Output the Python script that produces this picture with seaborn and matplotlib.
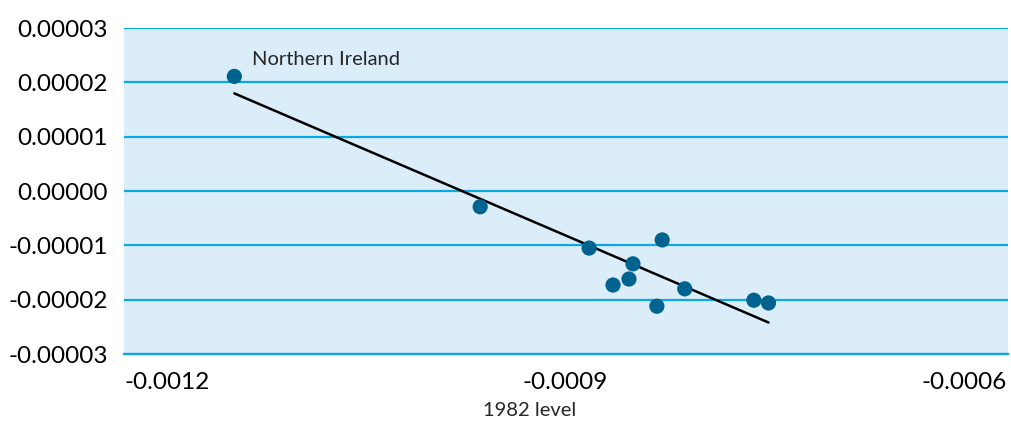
import numpy as np
import pandas as pd
import matplotlib
matplotlib.use("Agg")
import matplotlib.pyplot as plt
import seaborn as sns
from matplotlib.ticker import FuncFormatter

# values
level_1982 = [-0.001117, -0.000932, -0.000850, -0.000795, -0.000817, -0.000820,
              -0.000832, -0.000778, -0.000799, -0.000726, -0.000715]
change = [0.0000211, -0.0000029, -0.0000105, -0.0000090, -0.0000134, -0.0000162,
          -0.0000173, -0.0000180, -0.0000212, -0.0000201, -0.0000206]
x_ticks = [-0.0012, -0.0009, -0.0006]
y_ticks = [-0.00003, -0.00002, -0.00001, 0.0, 0.00001, 0.00002, 0.00003]
label_text = "Northern Ireland"

df = pd.DataFrame({"level": level_1982, "change": change})

sns.set_style("white")
plt.rcParams["font.family"] = ["Lato", "DejaVu Sans"]

grid_blue = "#0aa8e6"
dot_blue = "#00638f"

fig = plt.figure(figsize=(10.11, 4.25), dpi=100)
ax = fig.add_axes([0.1227, 0.167, 0.874, 0.767])
ax.set_facecolor("#dcedfa")

sns.regplot(data=df, x="level", y="change", ax=ax, ci=None, truncate=True,
            scatter_kws={"s": 120, "color": dot_blue, "edgecolor": "none", "alpha": 1, "zorder": 4},
            line_kws={"color": "black", "linewidth": 1.8, "zorder": 3})

ax.set_xlim(-0.0012, -0.000535)
ax.set_ylim(-0.00003, 0.00003)
ax.set_xticks(x_ticks)
ax.set_yticks(y_ticks)
ax.xaxis.set_major_formatter(FuncFormatter(lambda v, p: f"{v:.4f}"))
ax.yaxis.set_major_formatter(FuncFormatter(lambda v, p: f"{v:.5f}" if abs(v) > 1e-12 else "0.00000"))

ax.yaxis.grid(True, color=grid_blue, linewidth=1.6, zorder=1)
ax.set_axisbelow(True)
for s in ["left", "right", "top"]:
    ax.spines[s].set_visible(False)
ax.spines["bottom"].set_color(grid_blue)
ax.spines["bottom"].set_linewidth(1.6)

ax.tick_params(axis="y", length=0, pad=11.5, labelsize=17.5, labelcolor="black")
ax.tick_params(axis="x", length=8, width=1.5, color=grid_blue, pad=5, labelsize=17.5, labelcolor="black")
for t in ax.get_xticklabels():
    t.set_horizontalalignment("left")

ax.set_xlabel("1982 level", fontsize=14.5, labelpad=4)
ax.xaxis.set_label_coords(0.459, -0.148)
ax.set_ylabel("")

ax.annotate(label_text, xy=(level_1982[0], change[0]), xytext=(13, 6),
            textcoords="offset points", fontsize=14.5, ha="left", va="bottom")

plt.savefig("out.png", dpi=100)
